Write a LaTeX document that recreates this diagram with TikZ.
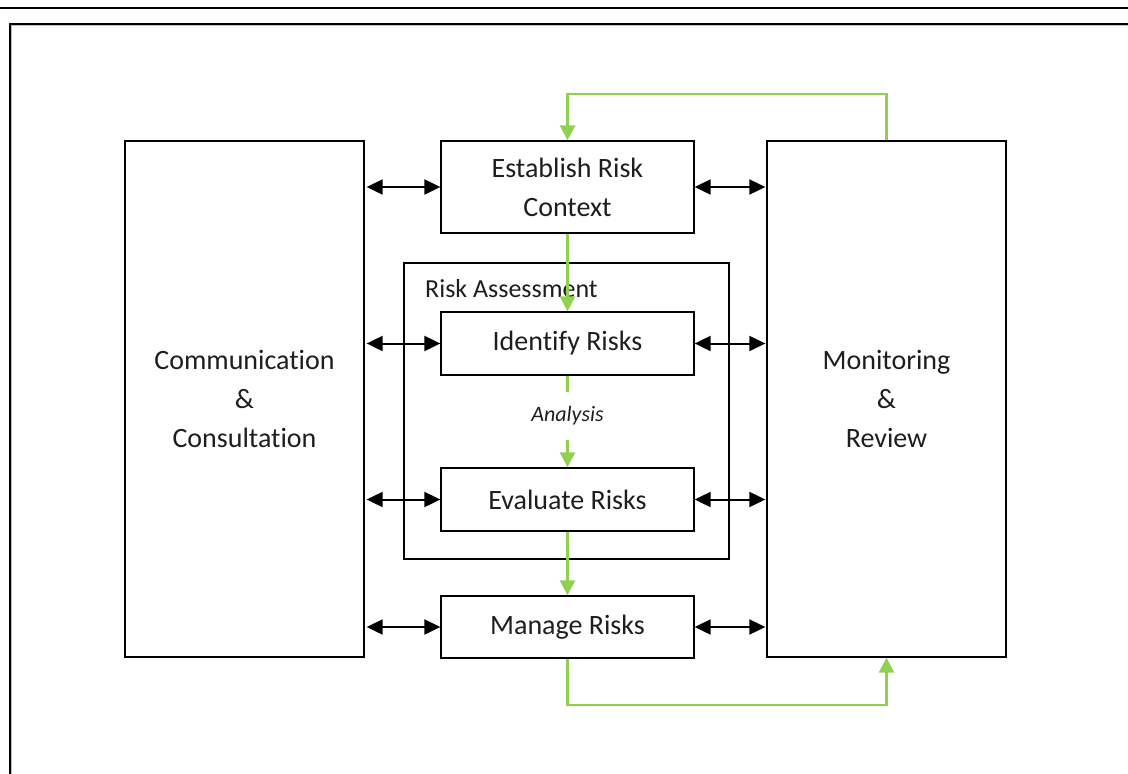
\documentclass[tikz,border=0pt]{standalone}
\usepackage{fontspec}
\setmainfont{Carlito}[Ligatures=NoCommon]
\usetikzlibrary{arrows.meta}
\definecolor{lgreen}{HTML}{92D050}
\definecolor{txt}{RGB}{30,30,30}
\begin{document}
\begin{tikzpicture}[x=1pt,y=-1pt,
  box/.style={draw=black, line width=1.3pt, inner sep=0pt, text=txt, font=\fontsize{28}{39}\selectfont, align=center},
  biarrow/.style={line width=2pt, {Triangle[length=16pt,width=15pt]}-{Triangle[length=16pt,width=15pt]}},
  garrow/.style={draw=lgreen, line width=2.5pt, -{Triangle[length=15pt,width=15pt]}},
  gline/.style={draw=lgreen, line width=2.5pt},
  frameline/.style={draw=black, line width=2pt},
]
\useasboundingbox (0,0) rectangle (1128,774);
% page lines
\draw[line width=2.5pt] (0,8) -- (1128,8);
\draw[gray!50, line width=0.9pt] (11.6,774) -- (11.6,25.6) -- (1128,25.6);
\draw[frameline] (10,774) -- (10,24) -- (1128,24);

% boxes
\node[box, minimum width=239, minimum height=516] (comm) at (244.5,399) {Communication\\\&\\Consultation};
\node[box, minimum width=239, minimum height=516] (mon) at (886.5,399) {Monitoring\\\&\\Review};
\node[box, minimum width=325, minimum height=296] (ra) at (566.5,411) {};
\node[anchor=base west, inner sep=0pt, text=txt, font=\fontsize{26}{30}\selectfont] (ralabel) at (425,297) {Risk Assessment};
\node[box, minimum width=253, minimum height=92] (est) at (567.5,187) {Establish Risk\\Context};
\node[box, minimum width=253, minimum height=63] (id) at (567.5,343.5) {Identify Risks};
\node[box, minimum width=253, minimum height=63] (ev) at (567.5,499.5) {Evaluate Risks};
\node[box, minimum width=253, minimum height=62] (man) at (567.5,627) {Manage Risks};
\node[inner sep=0pt, minimum height=47, text=txt, font=\itshape\fontsize{22}{26}\selectfont] (ana) at (567.5,416) {Analysis};

% black double arrows
\foreach \n in {est,id,ev,man}{
  \draw[biarrow] ([xshift=2pt]comm.east |- \n.west) -- (\n.west);
  \draw[biarrow] (\n.east) -- ([xshift=-1pt]mon.west |- \n.east);
}

% green flow
\coordinate (topturn) at (567.5,94);
\coordinate (botturn) at (567.5,705);
\draw[garrow] (mon.north) |- (topturn) -- (est.north);
\draw[garrow] (est.south) -- (id.north);
\draw[gline] (id.south) -- (ana.north);
\draw[garrow] (ana.south) -- (ev.north);
\draw[garrow] (ev.south) -- (man.north);
\draw[garrow] (man.south) -- (botturn) -| (mon.south);
\end{tikzpicture}
\end{document}
